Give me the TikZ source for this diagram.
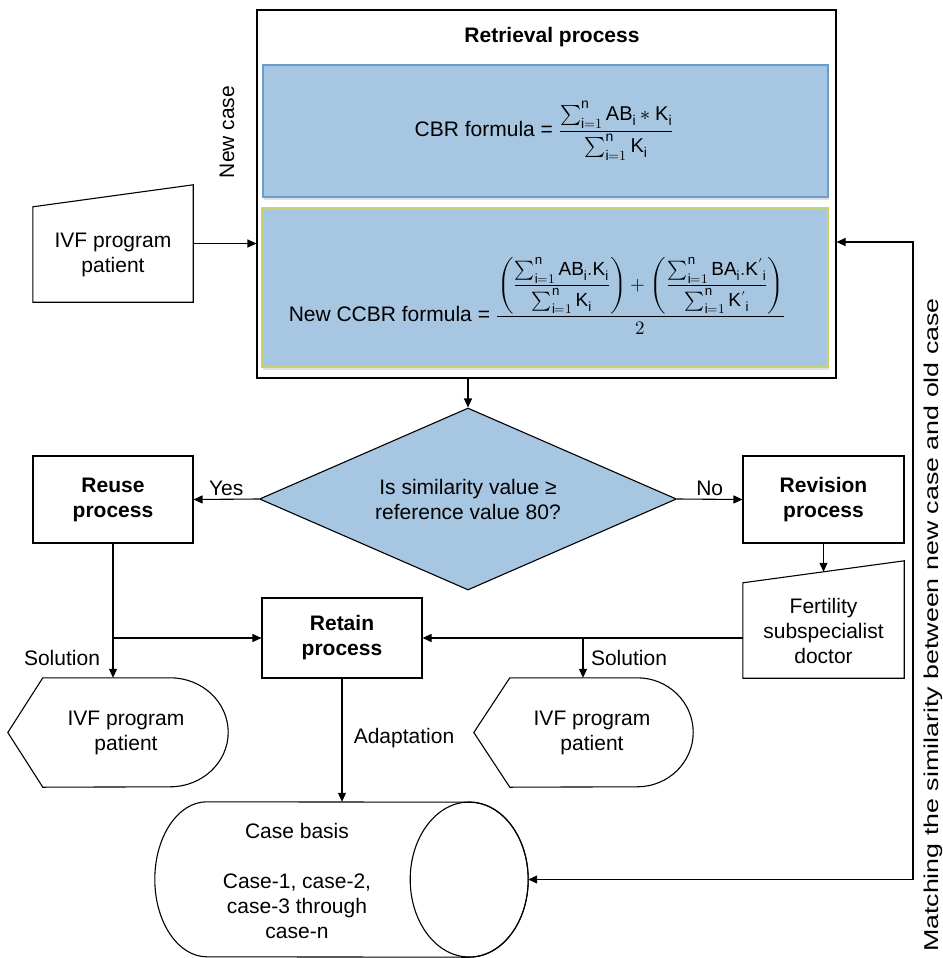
\documentclass[tikz,border=0pt]{standalone}
\usepackage{fontspec}
\setmainfont{Liberation Sans}
\usepackage{unicode-math}
\setmathfont{Latin Modern Math}
\usetikzlibrary{shapes.geometric,arrows.meta,calc,shadows}
\definecolor{cbrblue}{RGB}{167,198,226}
\definecolor{cbrline}{RGB}{106,156,208}
\definecolor{ccbrline}{RGB}{200,212,110}
\newcommand{\basefont}{\fontsize{21}{25}\selectfont}
\tikzset{
  procbox/.style={draw, line width=1.1pt, minimum width=160pt, minimum height=87pt, align=center, font=\basefont\bfseries},
  iobox/.style={minimum width=160pt, minimum height=95pt, align=center, inner sep=0pt},
  shapeline/.style={draw, line width=1.1pt},
  arr/.style={line width=1.1pt, -{Triangle[length=9pt,width=8pt]}},
  darr/.style={line width=1.1pt, {Triangle[length=9pt,width=8pt]}-{Triangle[length=9pt,width=8pt]}},
  formbox/.style={draw, line width=1.1pt, fill=cbrblue, drop shadow={opacity=0.25,shadow xshift=1pt,shadow yshift=-3pt}},
}
\begin{document}
\begin{tikzpicture}[x=1pt,y=-1pt, every node/.style={font=\basefont}]
\useasboundingbox (0,0) rectangle (942,958);

% retrieval block
\node[draw, line width=1.1pt, minimum width=579pt, minimum height=368pt] (rbox) at (546.5,194) {};
\node[font=\basefont\bfseries] (rtitle) at (552,37) {Retrieval process};
\node[formbox, draw=cbrline, minimum width=565pt, minimum height=132pt] (cbr) at (545.5,131) {};
\node[formbox, draw=ccbrline, minimum width=566pt, minimum height=159pt] (ccbr) at (545,287.5) {};
\node (cbrf) at (544,131) {CBR formula = {\fontsize{20}{24}\selectfont$\dfrac{\sum_{\mathup{i}=1}^{\mathup{n}}\mathup{AB}_{\mathup{i}}\ast\mathup{K}_{\mathup{i}}}{\sum_{\mathup{i}=1}^{\mathup{n}}\mathup{K}_{\mathup{i}}}$}};
\node (ccbrf) at (537,296) {New CCBR formula = {\fontsize{19}{23}\selectfont$\dfrac{\left(\dfrac{\sum_{\mathup{i}=1}^{\mathup{n}}\mathup{AB}_{\mathup{i}}.\mathup{K}_{\mathup{i}}}{\sum_{\mathup{i}=1}^{\mathup{n}}\mathup{K}_{\mathup{i}}}\right)+\left(\dfrac{\sum_{\mathup{i}=1}^{\mathup{n}}\mathup{BA}_{\mathup{i}}.{\mathup{K}'}_{\mathup{i}}}{\sum_{\mathup{i}=1}^{\mathup{n}}{\mathup{K}'}_{\mathup{i}}}\right)}{2}$}};
\node[rotate=90] (newcase) at (227,132) {New case};

% input patient
\node[iobox] (ivfin) at (113,254.5) {IVF program\\patient};
\draw[shapeline] (ivfin.south west) -- (ivfin.south east) -- ([yshift=22pt]ivfin.north east) -- (ivfin.north west) -- cycle;
\draw[arr] ([yshift=11pt]ivfin.east) -- ([yshift=11pt]ivfin.east -| rbox.west);

% decision
\node[diamond, draw, line width=1.1pt, fill=cbrblue, aspect=2.29, minimum width=417pt, minimum height=182pt, inner sep=0pt, align=center] (dia) at (468,499) {Is similarity value ≥\\reference value 80?};
\draw[arr] (dia.north |- rbox.south) -- (dia.north);

% processes
\node[procbox] (reuse) at (113,499.5) {Reuse\\process};
\node[procbox, minimum width=161pt] (revise) at (823.5,499.5) {Revision\\process};
\node[procbox, minimum height=80pt] (retain) at (342,638) {Retain\\process};
\draw[arr] (dia.west) -- node[above] (yes) {Yes} (reuse.east);
\draw[arr] (dia.east) -- node[above] (no) {No} (revise.west);

% doctor
\node[iobox, minimum width=161pt] (fert) at (823.5,630.5) {Fertility\\subspecialist\\doctor};
\draw[shapeline] (fert.south west) -- (fert.south east) -- ([yshift=22pt]fert.north east) -- (fert.north west) -- cycle;
\draw[arr] (revise.south) -- ([yshift=11pt]fert.north);

% outputs
\node[minimum width=220pt, minimum height=109pt, align=center, inner sep=0pt] (out1) at (126,732.5) {IVF program\\patient};
\draw[shapeline] ([xshift=27pt]out1.north west) -- ([xshift=-66pt]out1.north east)
  arc[start angle=90, end angle=-90, x radius=58pt, y radius=54.5pt]
  -- ([xshift=27pt]out1.south west) -- ([xshift=-8pt]out1.west) -- cycle;
\node[minimum width=219pt, minimum height=109pt, align=center, inner sep=0pt] (out2) at (592,732.5) {IVF program\\patient};
\draw[shapeline] ([xshift=27.5pt]out2.north west) -- ([xshift=-64.5pt]out2.north east)
  arc[start angle=90, end angle=-90, x radius=56pt, y radius=54.5pt]
  -- ([xshift=27.5pt]out2.south west) -- ([xshift=-8.5pt]out2.west) -- cycle;

\draw[arr] (reuse.south) -- (reuse.south |- out1.north);
\draw[arr] (reuse.south |- retain.west) -- (retain.west);
\node (sol1) at (62,658) {Solution};
\draw[arr] (retain.east -| fert.west) -- (retain.east);
\coordinate (br2) at (583,638);
\draw[arr] (br2) -- (br2 |- out2.north);
\node (sol2) at (629,658) {Solution};

% case base
\node[minimum width=262pt, minimum height=155pt, inner sep=0pt] (cyl) at (338,879.5) {};
\draw[shapeline] (cyl.north west) arc[start angle=90, end angle=270, x radius=52pt, y radius=77.5pt]
  -- (cyl.south east) arc[start angle=-90, end angle=90, x radius=59pt, y radius=77.5pt] -- cycle;
\draw[shapeline] (cyl.east) ellipse[x radius=59pt, y radius=77.5pt];
\node[align=center] (cyltext) at (297,881) {Case basis\\ \\Case-1, case-2,\\case-3 through\\case-n};
\draw[arr] (retain.south) -- (retain.south |- cyl.north);
\node (adapt) at (404,738) {Adaptation};

% feedback loop
\coordinate (mtop) at (913,242);
\draw[darr] ([xshift=59pt]cyl.east) -- (mtop |- cyl.east) -- (mtop) -- (mtop -| rbox.east);
\node[rotate=90, font=\fontsize{20}{24}\selectfont, inner sep=0pt] (match) at (933.5,625) {\scalebox{1.34}[1]{Matching the similarity between new case and old case}};

\end{tikzpicture}
\end{document}
